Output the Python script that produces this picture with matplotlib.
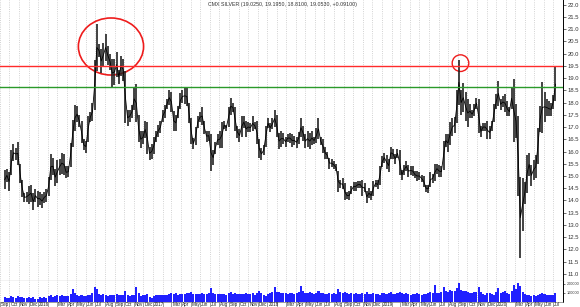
import numpy as np
import pandas as pd
import matplotlib.pyplot as plt
import matplotlib.dates as mdates
import matplotlib.patches as patches
from matplotlib.transforms import blended_transform_factory

plt.rcParams['font.family'] = ['Liberation Sans', 'DejaVu Sans']

# weekly bars, week ending Friday (first week 2015-09-18, last 2020-07-10)
first_week = '2015-09-18'

# weekly high / low (one row per month)
high = [
    15.25, 15.30,  15.15, 16.05, 16.30, 16.15, 16.40,  15.50, 14.85, 14.30, 14.35,  14.60, 14.65, 14.30, 14.45,
    # 2016
    14.40, 14.35, 14.25, 14.35, 14.45,  14.95, 15.90, 15.75, 15.30,  15.65, 15.70, 15.95, 15.90,
    15.40, 15.40, 16.35, 17.30, 17.90,  17.85, 17.50, 17.25, 16.50,  16.45, 17.45, 17.60, 18.00,
    19.75, 21.20, 20.40, 20.20, 20.45,  20.80, 20.30, 20.00, 19.80,  19.80, 20.05, 19.35, 19.90, 19.80,
    19.30, 17.70, 17.70, 17.90,  18.60, 18.75, 17.50, 16.85,  16.85, 17.25, 17.20, 16.20, 16.30,
    # 2017
    16.60, 16.85, 17.10, 17.25,  17.70, 17.90, 18.15, 18.50,  18.45, 17.65, 17.50, 17.85, 18.40,
    18.50, 18.60, 18.65, 18.00,  17.35, 16.55, 17.00, 17.45,  17.60, 17.80, 17.25, 16.85, 16.85,
    16.70, 16.05, 16.40, 16.70,  16.85, 17.20, 17.25, 17.10,  17.80, 18.20, 18.00, 17.80, 17.05,
    16.90, 17.45, 17.45, 17.25,  17.20, 17.15, 17.45, 17.20,  17.25, 16.50, 16.15, 16.25, 17.05,
    # 2018
    17.35, 17.15, 17.35, 17.70,  17.50, 16.75, 16.85, 16.75,  16.60, 16.70, 16.75, 16.70, 16.65,
    16.60, 16.80, 17.35, 17.05,  16.70, 16.85, 16.75, 16.85,  16.60, 16.95, 17.35, 16.60, 16.50,
    16.20, 16.00, 15.75, 15.70,  15.60, 15.50, 15.20, 14.85, 14.90,  14.70, 14.35, 14.40, 14.60,
    14.75, 14.75, 14.80, 14.80,  14.85, 14.70, 14.40, 14.50, 14.40,  14.80, 14.85, 14.85, 15.40,
    # 2019
    15.80, 15.95, 15.85, 15.70,  16.20, 16.10, 15.90, 16.10,  16.05, 15.25, 15.45, 15.60, 15.45,
    15.40, 15.40, 15.20, 15.20,  15.15, 15.05, 15.00, 14.65, 14.65,  15.15, 15.10, 15.50, 15.50,
    15.45, 15.40, 16.45, 16.70,  16.70, 17.20, 17.35, 17.40, 18.50,  19.75, 18.50, 18.80, 18.45,
    18.15, 17.95, 17.70, 17.95,  18.20, 18.15, 17.05, 17.15, 17.15,  17.25, 17.05, 17.25, 17.95,
    # 2020
    18.35, 18.90, 18.15, 18.25, 18.35,  18.05, 17.80, 18.60, 18.95,  17.95, 17.45, 14.95, 14.90,
    14.75, 15.85, 15.95, 15.45,  15.65, 15.85, 16.95, 17.85, 18.85,  18.45, 18.15, 18.05, 18.00,
    18.30, 19.45,
]

low = [
    14.45, 14.75,  14.40, 15.05, 15.60, 15.65, 15.45,  14.70, 14.15, 13.95, 13.95,  13.85, 13.95, 13.60, 13.95,
    # 2016
    13.75, 13.80, 13.70, 13.90, 13.95,  14.20, 14.85, 15.05, 14.60,  14.70, 15.05, 15.10, 15.05,
    14.90, 14.95, 15.35, 16.20, 16.85,  17.20, 17.00, 16.35, 16.05,  15.95, 16.40, 17.20, 17.25,
    17.70, 19.30, 19.85, 19.20, 19.45,  19.70, 19.55, 19.35, 18.60,  18.70, 19.05, 18.75, 19.10, 18.90,
    17.15, 17.05, 17.20, 17.35,  17.70, 17.20, 16.40, 16.15,  16.30, 16.55, 15.90, 15.65, 15.70,
    # 2017
    15.90, 16.40, 16.60, 16.75,  17.20, 17.35, 17.75, 17.90,  17.60, 16.85, 16.85, 17.35, 17.75,
    18.00, 17.95, 17.85, 17.15,  16.30, 16.10, 16.25, 16.95,  17.20, 17.10, 16.70, 16.40, 16.45,
    15.20, 15.45, 15.90, 16.25,  16.15, 16.15, 16.90, 16.85,  17.00, 17.50, 17.60, 16.85, 16.55,
    16.40, 16.60, 16.95, 16.60,  16.80, 16.80, 16.85, 16.90,  16.30, 15.75, 15.65, 15.85, 16.20,
    # 2018
    16.95, 16.80, 16.90, 17.00,  16.60, 16.10, 16.20, 16.30,  16.20, 16.40, 16.35, 16.20, 16.25,
    16.15, 16.30, 16.60, 16.45,  16.15, 16.20, 16.10, 16.25,  16.30, 16.35, 16.50, 16.25, 15.95,
    15.70, 15.70, 15.30, 15.35,  15.30, 15.20, 14.35, 14.50, 14.45,  14.00, 14.05, 14.00, 14.25,
    14.40, 14.40, 14.50, 14.50,  14.20, 14.35, 13.90, 14.10, 14.00,  14.20, 14.55, 14.45, 14.65,
    # 2019
    15.35, 15.55, 15.30, 15.15,  15.70, 15.70, 15.50, 15.75,  15.05, 14.85, 15.05, 15.20, 14.95,
    15.05, 15.00, 14.90, 14.80,  14.85, 14.75, 14.55, 14.35, 14.30,  14.55, 14.70, 14.80, 15.10,
    14.95, 14.95, 15.25, 16.20,  16.00, 16.25, 16.65, 16.75, 17.15,  17.90, 17.50, 17.60, 17.25,
    17.00, 17.35, 17.35, 17.45,  17.75, 16.75, 16.60, 16.85, 16.85,  16.50, 16.50, 16.85, 17.20,
    # 2020
    17.75, 17.85, 17.70, 17.80, 17.60,  17.45, 17.45, 17.75, 16.40,  16.55, 14.20, 11.65, 12.75,
    13.85, 14.30, 15.00, 14.60,  14.85, 14.90, 15.50, 16.80, 16.75,  17.20, 17.45, 17.45, 17.45,
    17.75, 18.05,
]

# weekly volume, thousands of contracts
volume = [
    55, 45,  45, 60, 55, 45, 60,  55, 50, 40, 45,  55, 45, 50, 30,
    # 2016
    30, 50, 45, 50, 45,  60, 80, 55, 65,  70, 65, 75, 60,
    65, 60, 90, 145, 100,  80, 65, 75, 60,  65, 75, 70, 100,
    160, 140, 90, 75, 85,  80, 65, 70, 75,  80, 90, 70, 80, 75,
    120, 75, 60, 70,  80, 165, 100, 65,  75, 70, 85, 50, 40,
    # 2017
    65, 80, 75, 70,  80, 75, 80, 90,  95, 90, 100, 80, 85,
    90, 85, 100, 100,  110, 85, 90, 85,  90, 95, 85, 90, 95,
    150, 100, 85, 90,  85, 90, 85, 80,  95, 110, 90, 95, 90,
    85, 90, 85, 95,  90, 85, 95, 75,  100, 120, 100, 75, 60,
    # 2018
    90, 95, 105, 165,  110, 105, 95, 100,  95, 90, 95, 100, 90,
    95, 110, 175, 115,  100, 95, 105, 100,  90, 95, 115, 100, 95,
    85, 90, 100, 90,  95, 90, 145, 105, 100,  110, 95, 90, 100,
    90, 95, 85, 90,  100, 90, 105, 85, 90,  100, 85, 90, 80,
    # 2019
    100, 95, 90, 95,  105, 90, 85, 100,  110, 100, 90, 95, 85,
    80, 85, 90, 95,  85, 80, 90, 85, 95,  110, 95, 185, 100,
    95, 105, 165, 115,  110, 135, 115, 120, 155,  210, 135, 125, 120,
    110, 100, 95, 105,  110, 160, 105, 90, 70,  100, 95, 85, 70,
    # 2020
    110, 150, 100, 105, 115,  100, 90, 115, 185,  145, 215, 175, 110,
    85, 75, 70, 65,  70, 65, 80, 90, 95,  85, 75, 70, 75,
    70, 100,
]

title = 'CMX SILVER (19.0250, 19.1950, 18.8100, 19.0530, +0.09100)'
resistance = 19.5
support = 18.65

dates = pd.date_range(first_week, periods=len(high), freq='W-FRI')
mid_week = dates - pd.Timedelta(days=2)
high = np.array(high)
low = np.array(low)
vol = np.array(volume) * 1000

# figure 580 x 307 px
W, H = 580, 307
fig = plt.figure(figsize=(W / 100, H / 100), dpi=100)
fig.patch.set_facecolor('white')
ax = fig.add_axes([0, 1 - 281 / H, 563 / W, 281 / H])
axv = fig.add_axes([0, 1 - 301.7 / H, 563 / W, 20.7 / H], sharex=ax)

x0 = pd.Timestamp('2015-09-20')
x1 = pd.Timestamp('2020-08-01')
ax.set_xlim(x0, x1)
ax.set_ylim(10.71, 22.19)
axv.set_ylim(0, 233000)

# month grid
months = pd.date_range('2015-09-01', '2020-07-01', freq='MS')
for a in (ax, axv):
    a.set_xticks(months)
    a.grid(axis='x', linestyle=':', color='#c4c4c4', linewidth=0.6)
    a.set_axisbelow(True)

# price bars
ax.vlines(mid_week, low, high, color='#222222', linewidth=1.2)
ax.plot(mid_week, (high + low) / 2, color='black', linewidth=0.6)

# levels
ax.axhline(resistance, color='#ff2a2a', linewidth=1.0)
ax.axhline(support, color='#2a9a2a', linewidth=1.0)

# circled tops
big = patches.Ellipse((mdates.date2num(pd.Timestamp('2016-08-20')), 20.29), 208, 2.33,
                      fill=False, edgecolor='#ee1c1c', linewidth=1.2)
small = patches.Ellipse((mdates.date2num(pd.Timestamp('2019-09-09')), 19.61), 53, 0.68,
                        fill=False, edgecolor='#ee1c1c', linewidth=1.0)
ax.add_patch(big)
ax.add_patch(small)

# right price axis
ax.yaxis.tick_right()
ax.set_yticks(np.arange(11.0, 22.01, 0.5))
ax.set_yticklabels([f'{v:.1f}' for v in np.arange(11.0, 22.01, 0.5)])
ax.tick_params(axis='y', labelsize=4.2, length=2, width=0.5, pad=1.5, colors='#333333')
ax.tick_params(axis='x', length=0, labelbottom=False)
for s in ('top', 'left'):
    ax.spines[s].set_visible(False)
ax.spines['right'].set_linewidth(0.7)
ax.spines['bottom'].set_color('#999999')
ax.spines['bottom'].set_linewidth(0.9)

# volume
axv.bar(mid_week, vol, width=6.5, color='#2020ff', linewidth=0)
axv.yaxis.tick_right()
axv.set_yticks([100000, 200000])
axv.set_yticklabels(['100000', '200000'])
axv.tick_params(axis='y', labelsize=2.7, length=1.5, width=0.5, pad=1, colors='#333333')
axv.tick_params(axis='x', length=3.5, width=0.4, colors='#555555', labelbottom=False)
for s in ('top', 'left'):
    axv.spines[s].set_visible(False)
axv.spines['right'].set_linewidth(0.7)
axv.spines['bottom'].set_linewidth(0.5)
axv.spines['bottom'].set_color('#777777')

# month labels (year at January, February left out), below the volume panel
trans = blended_transform_factory(axv.transData, fig.transFigure)
for m in months:
    if m.month == 2:
        continue
    lab = str(m.year) if m.month == 1 else m.strftime('%b')
    fig.text(mdates.date2num(m + pd.Timedelta(days=3)), 1 - 301.9 / H, lab, transform=trans,
             ha='left', va='top', fontsize=3.3, color='#222222')

fig.text(282 / W, 1 - 4.7 / H, title, ha='center', va='center', fontsize=3.8, color='#333333')

fig.savefig('out.png', dpi=100, facecolor='white')
